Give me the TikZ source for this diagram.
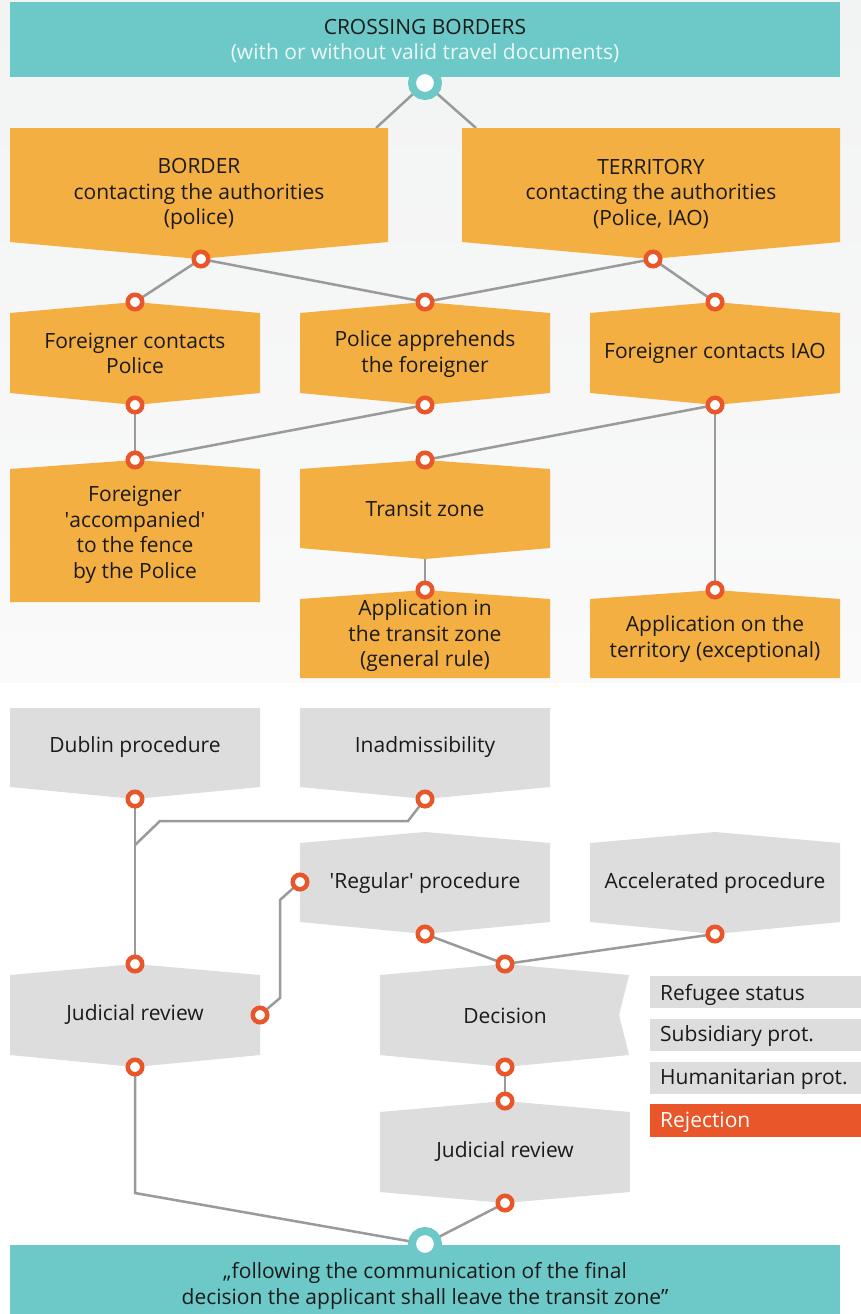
\documentclass[tikz,border=0pt]{standalone}
\usepackage{fontspec}
\setmainfont{Open Sans}
\definecolor{tealC}{HTML}{6DC8C8}
\definecolor{orangeC}{HTML}{F3AF41}
\definecolor{grayC}{HTML}{DDDDDD}
\definecolor{redC}{HTML}{E8562A}
\definecolor{lineC}{HTML}{9A9A9A}
\definecolor{bgTop}{HTML}{F2F3F3}
\definecolor{bgBot}{HTML}{FAFAFA}
\definecolor{txtC}{HTML}{1A1A1A}
\definecolor{lightTxt}{HTML}{EEF8F8}
\newcommand\myhex[7]{\fill[#1] ({(#2+#3)/2},#4) -- (#3,#5) -- (#3,#6) -- ({(#2+#3)/2},#7) -- (#2,#6) -- (#2,#5) -- cycle;}
\begin{document}
\begin{tikzpicture}[x=1pt,y=-1pt,
  ofill/.style={fill=orangeC},
  gfill/.style={fill=grayC},
  tfill/.style={fill=tealC},
  lbl/.style={align=center, text=txtC, font=\fontsize{21}{25.5}\selectfont, inner sep=0pt},
  leg/.style={anchor=west, text=txtC, font=\fontsize{21}{25.5}\selectfont, inner sep=0pt},
  conn/.style={draw=lineC, line width=2.5pt},
  odot/.style={circle, draw=redC, line width=4.5pt, fill=white, minimum size=14.5pt, inner sep=0pt},
  tdot/.style={circle, draw=tealC, line width=8pt, fill=white, minimum size=26pt, inner sep=0pt}]
% background
\fill[white] (0,0) rectangle (861,1314);
\shade[top color=bgTop, bottom color=bgBot] (0,0) rectangle (861,682);
\useasboundingbox (0,0) rectangle (861,1314);

% ---- dot coordinates ----
\coordinate (ctop) at (425,83);
\coordinate (cbot) at (425,1244);
\coordinate (eBl) at (376,128);
\coordinate (eTr) at (476,128);
\coordinate (pBb) at (201,259);
\coordinate (pTb) at (653,259);
\coordinate (pFPt) at (135,302);
\coordinate (pPAt) at (425,302);
\coordinate (pFIt) at (715,302);
\coordinate (pFPb) at (135,405);
\coordinate (pPAb) at (425,405);
\coordinate (pFIb) at (715,405);
\coordinate (pACt) at (135,460);
\coordinate (pTZt) at (425,460);
\coordinate (pTZb) at (425,559);
\coordinate (pATt) at (425,590);
\coordinate (pAEt) at (715,590);
\coordinate (pDUb) at (135,799);
\coordinate (pINb) at (425,799);
\coordinate (pREl) at (300,882);
\coordinate (pREb) at (425,934);
\coordinate (pAPb) at (715,934);
\coordinate (pJLt) at (135,964);
\coordinate (pJLr) at (260,1015);
\coordinate (pJLb) at (135,1067);
\coordinate (pDEt) at (505,964);
\coordinate (pDEb) at (505,1067);
\coordinate (pJRt) at (505,1101);
\coordinate (pJRb) at (505,1203);
\coordinate (j1) at (135,845);

% ---- connectors ----
\draw[conn] (ctop) -- (eBl);
\draw[conn] (ctop) -- (eTr);
\draw[conn] (pBb) -- (pFPt);
\draw[conn] (pBb) -- (pPAt);
\draw[conn] (pTb) -- (pPAt);
\draw[conn] (pTb) -- (pFIt);
\draw[conn] (pFPb) -- (pACt);
\draw[conn] (pPAb) -- (pACt);
\draw[conn] (pFIb) -- (pTZt);
\draw[conn] (pFIb) -- (pAEt);
\draw[conn] (pTZb) -- (pATt);
\draw[conn] (pDUb) -- (pJLt);
\draw[conn] (pINb) -- (408,821) -- (160,821) -- (j1);
\draw[conn] (pREl) -- (280,900) -- (280,998) -- (pJLr);
\draw[conn] (pREb) -- (pDEt);
\draw[conn] (pAPb) -- (pDEt);
\draw[conn] (pDEb) -- (pJRt);
\draw[conn] (pJLb) -- (135,1193) -- (cbot);
\draw[conn] (pJRb) -- (cbot);

% ---- shapes ----
\fill[tfill] (10,2) rectangle (840,77);
\fill[tfill] (10,1245) rectangle (840,1314);
\myhex{ofill}{10}{388}{128}{128}{242}{259}
\myhex{ofill}{462}{840}{128}{128}{242}{259}
\myhex{ofill}{10}{260}{302}{313}{393}{405}
\myhex{ofill}{300}{550}{302}{313}{393}{405}
\myhex{ofill}{590}{840}{302}{313}{393}{405}
\myhex{ofill}{10}{260}{460}{469}{602}{602}
\myhex{ofill}{300}{550}{460}{469}{548}{559}
\myhex{ofill}{300}{550}{590}{599}{678}{678}
\myhex{ofill}{590}{840}{590}{599}{678}{678}
\myhex{gfill}{10}{260}{708}{708}{787}{799}
\myhex{gfill}{300}{550}{708}{708}{787}{799}
\myhex{gfill}{300}{550}{832}{843}{922}{934}
\myhex{gfill}{590}{840}{832}{843}{922}{934}
\myhex{gfill}{10}{260}{964}{975}{1055}{1067}
\fill[gfill] (505,964) -- (629,975) -- (619,1015) -- (629,1055) -- (505,1067) -- (380,1055) -- (380,975) -- cycle;
\myhex{gfill}{380}{630}{1101}{1112}{1192}{1203}
\fill[gfill] (650,976) rectangle (861,1008);
\fill[gfill] (650,1019) rectangle (861,1051);
\fill[gfill] (650,1062) rectangle (861,1094);
\fill[fill=redC] (650,1104) rectangle (861,1137);

% ---- texts ----
\node[lbl] (top) at (425,41) {CROSSING BORDERS\\\textcolor{lightTxt}{(with or without valid travel documents)}};
\node[lbl] (bot) at (425,1286) {„following the communication of the final\\decision the applicant shall leave the transit zone”};
\node[lbl] (border) at (199,194) {BORDER\\contacting the authorities\\(police)};
\node[lbl] (territory) at (651,194) {TERRITORY\\contacting the authorities\\(Police, IAO)};
\node[lbl] (fcp) at (135,353.5) {Foreigner contacts\\Police};
\node[lbl] (pa) at (425,354) {Police apprehends\\the foreigner};
\node[lbl] (fci) at (715,353.5) {Foreigner contacts IAO};
\node[lbl] (acc) at (135,535) {Foreigner\\\textquotesingle accompanied\textquotesingle\\to the fence\\by the Police};
\node[lbl] (tz) at (425,508.5) {Transit zone};
\node[lbl] (apt) at (425,636) {Application in\\the transit zone\\(general rule)};
\node[lbl] (ape) at (715,639) {Application on the\\territory (exceptional)};
\node[lbl] (dub) at (135,747.5) {Dublin procedure};
\node[lbl] (inad) at (425,747.5) {Inadmissibility};
\node[lbl] (reg) at (425,883.5) {\textquotesingle Regular\textquotesingle\ procedure};
\node[lbl] (accp) at (715,883.5) {Accelerated procedure};
\node[lbl] (jrl) at (135,1014.5) {Judicial review};
\node[lbl] (dec) at (505,1015.5) {Decision};
\node[lbl] (jrr) at (505,1151.5) {Judicial review};
\node[leg] (l1) at (660,994.5) {Refugee status};
\node[leg] (l2) at (660,1036.5) {Subsidiary prot.};
\node[leg] (l3) at (660,1079.5) {Humanitarian prot.};
\node[leg, text=white] (l4) at (660,1122.5) {Rejection};

% ---- dots ----
\node[tdot] (dtop) at (ctop) {};
\node[tdot] (dbot) at (cbot) {};
\foreach \c in {pBb,pTb,pFPt,pPAt,pFIt,pFPb,pPAb,pFIb,pACt,pTZt,pATt,pAEt,pDUb,pINb,pREl,pREb,pAPb,pJLt,pJLr,pJLb,pDEt,pDEb,pJRt,pJRb}
  \node[odot] (d\c) at (\c) {};
\end{tikzpicture}
\end{document}
